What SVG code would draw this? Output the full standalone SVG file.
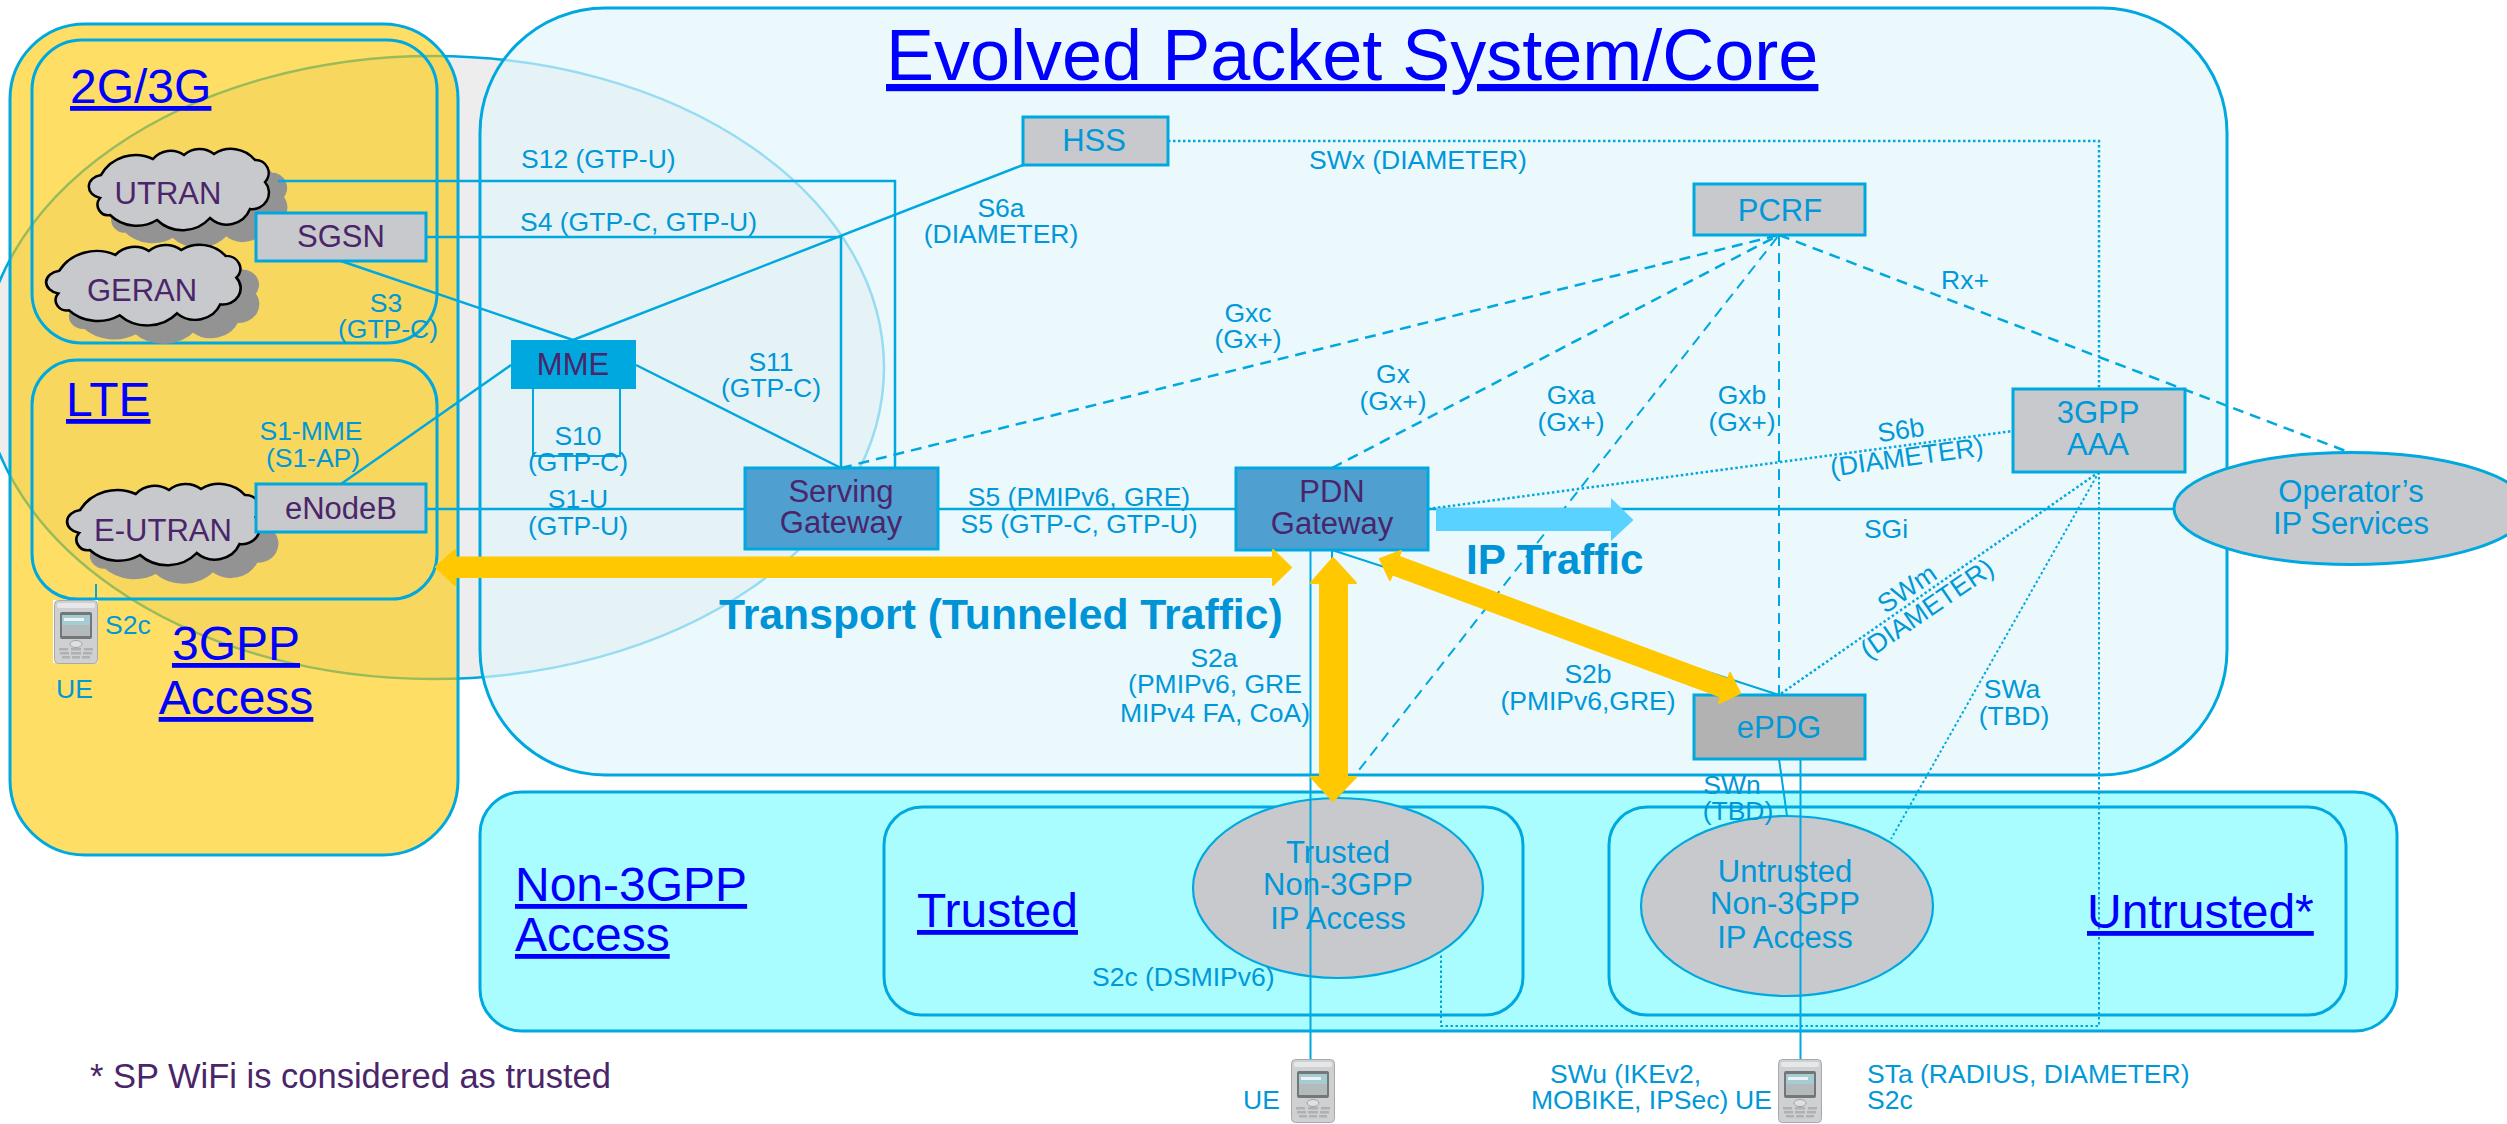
<svg xmlns="http://www.w3.org/2000/svg" xmlns:xlink="http://www.w3.org/1999/xlink" width="2507" height="1124" viewBox="0 0 2507 1124">
<style>
text{font-family:"Liberation Sans",Arial,sans-serif}
.l{font-size:26.5px;fill:#0098d8}
.n{font-size:31px;fill:#4b2569;text-anchor:middle}
.b{font-size:31px;fill:#0098d8;text-anchor:middle}
.m{text-anchor:middle}
.h{font-size:48px;fill:#0000ff;text-decoration:underline}
.big{font-weight:bold;fill:#0093d6}
.frame{fill:none;stroke:#00a8e0;stroke-width:3}
.box{fill:#c8c9cd;stroke:#00a8e0;stroke-width:3}
.oval{fill:#c8c9cd;stroke:#00a8e0;stroke-width:2.2}
.gw{fill:#4f9fd0;stroke:#00a8e0;stroke-width:3}
.c{fill:none;stroke:#00a8e0;stroke-width:2.5}
.thin{stroke-width:2}
.dash{stroke-dasharray:11 7}
.dot{stroke-dasharray:2.5 2.5}
.y{fill:#ffc800;stroke:#ffc800;stroke-width:2;stroke-linejoin:round}
.cl{fill:#c8c9cd;stroke:#000;stroke-width:2.5}
.sh{fill:#939393;stroke:#939393;stroke-width:5;stroke-linejoin:round}
</style>
<defs>
<path id="cloud" d="M16 26A40 40 0 0 1 68 10A23 23 0 0 1 99 6A23 23 0 0 1 129 5A31 31 0 0 1 170 11A13 13 0 0 1 180 33A16.500 16.500 0 0 1 165 60A25 25 0 0 1 125 69A37 37 0 0 1 72 71A38.500 38.500 0 0 1 25 66A10.500 10.500 0 0 1 15 49A15 11.800 0 0 1 16 26Z"/>
<g id="phone">
<rect x="0.5" y="0.5" width="43" height="63" rx="4" fill="#cfd0d2" stroke="#a8a9ac"/>
<rect x="3" y="3" width="38" height="5" rx="2" fill="#e6e7e9"/>
<rect x="6" y="12" width="32" height="27" rx="2" fill="#74777a"/>
<rect x="8" y="15" width="28" height="10" fill="#a5cbd3"/>
<rect x="8" y="25" width="28" height="11" fill="#b4b9bb"/>
<rect x="10" y="18" width="20" height="3" fill="#eef2f2"/>
<ellipse cx="22" cy="44" rx="6" ry="3.5" fill="#dfe0e2" stroke="#a2a3a6"/>
<g fill="#afb0b3">
<rect x="5" y="48" width="9" height="2.5"/><rect x="17" y="48" width="10" height="2.5"/><rect x="30" y="48" width="9" height="2.5"/>
<rect x="6" y="52" width="9" height="2.5"/><rect x="17" y="52" width="10" height="2.5"/><rect x="29" y="52" width="9" height="2.5"/>
<rect x="8" y="56" width="8" height="2.5"/><rect x="18" y="56" width="8" height="2.5"/><rect x="28" y="56" width="8" height="2.5"/>
</g>
</g>
</defs>

<g id="regions">
<ellipse cx="433" cy="367.5" rx="451" ry="311.5" fill="#ededed" stroke="#00a8e0" stroke-width="2.5"/>
<rect id="access-3gpp" x="10" y="24" width="448" height="831" rx="75" fill="#ffc800" fill-opacity=".6" stroke="#00a8e0" stroke-width="3"/>
<rect id="eps" x="480" y="8" width="1747" height="767" rx="125" fill="#e3f6fb" fill-opacity=".667" stroke="#00a8e0" stroke-width="3"/>
<rect id="r2g3g" class="frame" x="32" y="40" width="405" height="303" rx="50"/>
<rect id="rlte" class="frame" x="32" y="360" width="405" height="239" rx="45"/>
<rect id="non3gpp" x="480" y="792" width="1917" height="239" rx="42" fill="#aafdff" stroke="#00a8e0" stroke-width="3"/>
<rect id="rtrusted" class="frame" x="884" y="807" width="639" height="208" rx="38"/>
<rect id="runtrusted" class="frame" x="1609" y="807" width="737" height="208" rx="38"/>
</g>

<g id="utran"><use href="#cloud" class="sh" transform="translate(101,164)"/><use href="#cloud" class="cl" transform="translate(85,149)"/></g>
<g id="geran"><use href="#cloud" class="sh" transform="translate(58,261) scale(1.08,.99)"/><use href="#cloud" class="cl" transform="translate(42,245) scale(1.08,.99)"/></g>
<g id="eutran"><use href="#cloud" class="sh" transform="translate(79,500) scale(1.07,1)"/><use href="#cloud" class="cl" transform="translate(63,484) scale(1.07,1)"/></g>
<g id="trusted-access"><ellipse class="oval" cx="1338" cy="888" rx="145" ry="90"/></g>
<g id="untrusted-access"><ellipse class="oval" cx="1787" cy="906" rx="146" ry="90"/></g>

<g id="connectors">
<path class="c" d="M278 181H895V468"/>
<path class="c" d="M426 237H841V468"/>
<path class="c" d="M341 261L573 340"/>
<path class="c" d="M573 340L1023 165"/>
<path class="c" d="M636 365L841 468"/>
<path class="c thin" d="M533 389V456H620V389"/>
<path class="c" d="M341 484L511 365"/>
<path class="c" d="M426 509H745"/>
<path class="c" d="M938 509H1235"/>
<path class="c" d="M1428 509H2174"/>
<path class="c thin" d="M1310.500 550V1060"/>
<path class="c thin" d="M1332 550V562"/>
<path class="c thin" d="M1332 550L1779 695"/>
<path class="c thin" d="M1779 759L1787 816"/>
<path class="c thin" d="M1800.500 759V1059"/>
<path class="c thin" d="M96 584V600"/>
<path class="c dash" d="M841 468L1779 235"/>
<path class="c dash" d="M1332 468L1779 235"/>
<path class="c dash thin" d="M1337 798L1779 235"/>
<path class="c dash thin" d="M1779 235V695"/>
<path class="c dash" d="M1779 235L2351 453"/>
<path class="c dot" d="M1428 509L2013 431"/>
<path class="c dot" d="M1168 141H2099V389"/>
<path class="c dot thin" d="M2099 472V1026H1441V953"/>
<path class="c dot" d="M2099 472L1779 695"/>
<path class="c dot thin" d="M2099 472L1891 839"/>
</g>

<g id="sgsn"><rect class="box" x="256" y="213" width="170" height="48"/><text class="n" x="341" y="247">SGSN</text></g>
<g id="enodeb"><rect class="box" x="256" y="484" width="170" height="48"/><text class="n" x="341" y="519">eNodeB</text></g>
<g id="mme"><rect x="511" y="340" width="125" height="49" fill="#00a8e0"/><text class="n" x="573" y="375">MME</text></g>
<g id="hss"><rect class="box" x="1023" y="117" width="145" height="48"/><text class="b" x="1094" y="151">HSS</text></g>
<g id="serving-gateway"><rect class="gw" x="745" y="468" width="193" height="81"/><text class="n" x="841" y="502">Serving</text><text class="n" x="841" y="533">Gateway</text></g>
<g id="pdn-gateway"><rect class="gw" x="1236" y="468" width="192" height="82"/><text class="n" x="1332" y="502">PDN</text><text class="n" x="1332" y="534">Gateway</text></g>
<g id="pcrf"><rect class="box" x="1694" y="184" width="171" height="51"/><text class="b" x="1780" y="221">PCRF</text></g>
<g id="aaa"><rect class="box" x="2013" y="389" width="172" height="83"/><text class="b" x="2098" y="423">3GPP</text><text class="b" x="2098" y="455">AAA</text></g>
<g id="epdg"><rect x="1694" y="695" width="171" height="64" fill="#b2b2b2" stroke="#00a8e0" stroke-width="3"/><text class="b" x="1779" y="738">ePDG</text></g>
<g id="operator"><ellipse class="box" cx="2351" cy="508.500" rx="177" ry="56"/><text class="b" x="2351" y="502">Operator’s</text><text class="b" x="2351" y="534">IP Services</text></g>
<g id="ue-left"><rect x="53" y="600" width="45" height="63" fill="#fff"/><use href="#phone" transform="translate(54,600)"/></g>
<g id="ue-mid"><use href="#phone" transform="translate(1291,1059)"/></g>
<g id="ue-right"><use href="#phone" transform="translate(1778,1059)"/></g>

<g id="traffic-arrows">
<path d="M1436 508H1611V498L1633.500 520L1611 541V531H1436Z" fill="#5ad2ff"/>
<path class="y" d="M436 567L455 550V557.500H1273V550L1291 567.500L1273 585V577H455V585Z"/>
<path class="y" d="M1333 558L1356 583H1347V777H1356L1333 801L1311 777H1320V583H1311Z"/>
<path class="y" d="M1380 559L1401 551L1398.800 556.600L1727.800 679.100L1730 673L1740 693L1719 703L1721.200 696.900L1392.200 574.400L1390 580Z"/>
</g>

<g id="cloud-labels">
<text class="n" x="168" y="204">UTRAN</text>
<text class="n" x="142" y="301">GERAN</text>
<text class="n" x="163" y="541">E-UTRAN</text>
</g>
<g id="access-labels">
<text class="b" x="1338" y="863">Trusted</text><text class="b" x="1338" y="895">Non-3GPP</text><text class="b" x="1338" y="929">IP Access</text>
<text class="b" x="1785" y="882">Untrusted</text><text class="b" x="1785" y="914">Non-3GPP</text><text class="b" x="1785" y="948">IP Access</text>
</g>

<g id="titles">
<text x="886" y="80" font-size="72" fill="#0000ff" text-decoration="underline">Evolved Packet System/Core</text>
<text class="h" x="70" y="103">2G/3G</text>
<text class="h" x="66" y="416">LTE</text>
<text class="h m" x="236" y="660">3GPP</text>
<text class="h m" x="236" y="714">Access</text>
<text class="h" x="515" y="901">Non-3GPP</text>
<text class="h" x="515" y="951">Access</text>
<text class="h" x="917" y="927">Trusted</text>
<text class="h" x="2087" y="928">Untrusted*</text>
<text class="big" x="719" y="629" font-size="42.7">Transport (Tunneled Traffic)</text>
<text class="big" x="1466" y="574" font-size="42.2">IP Traffic</text>
<text x="90" y="1088" font-size="34.500" fill="#4b2569">* SP WiFi is considered as trusted</text>
</g>

<g id="connector-labels">
<text class="l" x="521" y="168">S12 (GTP-U)</text>
<text class="l" x="520" y="231">S4 (GTP-C, GTP-U)</text>
<text class="l m" x="386" y="312">S3</text><text class="l m" x="388" y="338">(GTP-C)</text>
<text class="l m" x="311" y="440">S1-MME</text><text class="l m" x="313" y="467">(S1-AP)</text>
<text class="l m" x="578" y="445">S10</text><text class="l m" x="578" y="471">(GTP-C)</text>
<text class="l m" x="578" y="508">S1-U</text><text class="l m" x="578" y="535">(GTP-U)</text>
<text class="l m" x="771" y="371">S11</text><text class="l m" x="771" y="397">(GTP-C)</text>
<text class="l m" x="1001" y="217">S6a</text><text class="l m" x="1001" y="243">(DIAMETER)</text>
<text class="l m" x="1079" y="506">S5 (PMIPv6, GRE)</text><text class="l m" x="1079" y="533">S5 (GTP-C, GTP-U)</text>
<text class="l m" x="1248" y="322">Gxc</text><text class="l m" x="1248" y="348">(Gx+)</text>
<text class="l m" x="1393" y="383">Gx</text><text class="l m" x="1393" y="410">(Gx+)</text>
<text class="l m" x="1571" y="404">Gxa</text><text class="l m" x="1571" y="431">(Gx+)</text>
<text class="l m" x="1742" y="404">Gxb</text><text class="l m" x="1742" y="431">(Gx+)</text>
<text class="l" x="1309" y="169">SWx (DIAMETER)</text>
<text class="l" x="1941" y="289">Rx+</text>
<text class="l m" transform="translate(1902,439) rotate(-8)">S6b</text>
<text class="l m" transform="translate(1908,466) rotate(-8)">(DIAMETER)</text>
<text class="l m" x="1886" y="538">SGi</text>
<text class="l m" transform="translate(1912,596) rotate(-34.400)">SWm</text>
<text class="l m" transform="translate(1932,616) rotate(-34.400)">(DIAMETER)</text>
<text class="l m" x="2012" y="698">SWa</text><text class="l m" x="2014" y="725">(TBD)</text>
<text class="l m" x="1588" y="683">S2b</text><text class="l m" x="1588" y="710">(PMIPv6,GRE)</text>
<text class="l m" x="1214" y="667">S2a</text><text class="l m" x="1215" y="693">(PMIPv6, GRE</text><text class="l m" x="1215" y="722">MIPv4 FA, CoA)</text>
<text class="l m" x="1732" y="794">SWn</text><text class="l m" x="1738" y="820">(TBD)</text>
<text class="l" x="1092" y="986">S2c (DSMIPv6)</text>
<text class="l" x="105" y="634">S2c</text>
<text class="l" x="56" y="698">UE</text>
<text class="l" x="1243" y="1109">UE</text>
<text class="l" x="1550" y="1083">SWu (IKEv2,</text>
<text class="l" x="1531" y="1109">MOBIKE, IPSec)</text>
<text class="l" x="1735" y="1109">UE</text>
<text class="l" x="1867" y="1083">STa (RADIUS, DIAMETER)</text>
<text class="l" x="1867" y="1109">S2c</text>
</g>
</svg>
